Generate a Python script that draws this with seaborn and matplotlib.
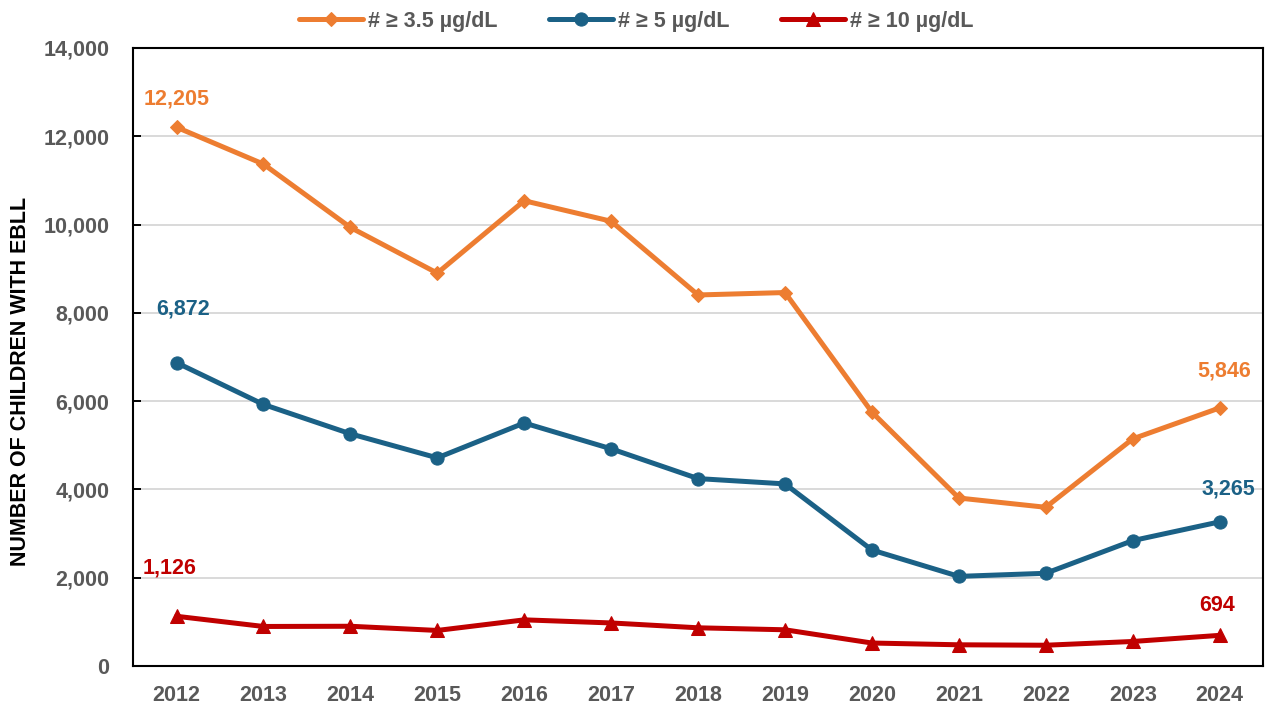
import numpy as np
import pandas as pd
import seaborn as sns
import matplotlib as mpl
from matplotlib import pyplot as plt
from matplotlib.ticker import FuncFormatter, MultipleLocator

years = [2012, 2013, 2014, 2015, 2016, 2017, 2018, 2019, 2020, 2021, 2022, 2023, 2024]
ge_35 = [12205, 11370, 9935, 8900, 10540, 10075, 8405, 8460, 5750, 3805, 3595, 5145, 5846]
ge_5 = [6872, 5925, 5260, 4715, 5505, 4920, 4245, 4125, 2627, 2030, 2100, 2840, 3265]
ge_10 = [1126, 895, 900, 805, 1045, 975, 865, 820, 520, 480, 470, 555, 694]
series_names = ['# \u2265 3.5 \u00b5g/dL', '# \u2265 5 \u00b5g/dL', '# \u2265 10 \u00b5g/dL']

colors = ['#ED7D31', '#1B6186', '#C00000']
markers = ['D', 'o', '^']
msizes = [7, 9.5, 9.5]

sns.set_style('white')
plt.rcParams['font.family'] = ['Liberation Sans', 'DejaVu Sans']
plt.rcParams['font.weight'] = 'bold'

df = pd.DataFrame({
    'year': years * 3,
    'count': ge_35 + ge_5 + ge_10,
    'series': [series_names[0]] * 13 + [series_names[1]] * 13 + [series_names[2]] * 13,
})

fig = plt.figure(figsize=(12.72, 7.10), dpi=100)
ax = fig.add_axes([0.1046, 0.062, 0.993 - 0.1046, 0.9324 - 0.062])

for name, col, mk, ms in zip(series_names, colors, markers, msizes):
    sns.lineplot(data=df[df['series'] == name], x='year', y='count', color=col,
                 marker=mk, markersize=ms, markeredgecolor=col, linewidth=3.6,
                 label=name, ax=ax)

ax.set_xlim(2011.5, 2024.5)
ax.set_ylim(0, 14000)
ax.set_xticks(years)
ax.set_xticklabels([str(y) for y in years])
ax.xaxis.set_minor_locator(MultipleLocator(1, offset=0.5))
ax.yaxis.set_major_locator(MultipleLocator(2000))
ax.yaxis.set_major_formatter(FuncFormatter(lambda v, p: f'{int(v):,}'))
ax.grid(axis='y', color='#D9D9D9', linewidth=1.4)
ax.set_axisbelow(True)

ax.tick_params(axis='x', which='major', length=0, pad=14, labelsize=15.5, labelcolor='#595959')
ax.tick_params(axis='x', which='minor', direction='in', length=6, width=1.4, color='black')
ax.tick_params(axis='y', direction='in', length=6, width=1.4, color='black', pad=17,
               labelsize=15.5, labelcolor='#595959', left=True)
for lab in ax.get_xticklabels() + ax.get_yticklabels():
    lab.set_fontweight('bold')

for s in ax.spines.values():
    s.set_visible(True)
    s.set_color('black')
    s.set_linewidth(1.5)

ax.set_xlabel('')
ax.set_ylabel('NUMBER OF CHILDREN WITH EBLL', fontsize=15.5, fontweight='bold', color='black')
ax.yaxis.set_label_coords(-0.090, 0.46)

# end-point labels
labels = [
    (years[0], ge_35[0], colors[0], (0, 13)),
    (years[0], ge_5[0], colors[1], (5, 31)),
    (years[0], ge_10[0], colors[2], (-5, 27)),
    (years[-1], ge_35[-1], colors[0], (3, 19)),
    (years[-1], ge_5[-1], colors[1], (6, 16)),
    (years[-1], ge_10[-1], colors[2], (-2, 14)),
]
for x, y, c, off in labels:
    ax.annotate(f'{y:,}', (x, y), xytext=off, textcoords='offset points',
                ha='center', va='bottom', color=c, fontsize=15.5, fontweight='bold')

ax.legend(loc='upper center', bbox_to_anchor=(0.5, 1.012), bbox_transform=fig.transFigure,
          ncol=3, frameon=False, fontsize=15.5, handlelength=3.0, columnspacing=2.4,
          handletextpad=0.2, labelcolor='#595959')
for t in ax.get_legend().get_texts():
    t.set_fontweight('bold')

fig.savefig('out.png', dpi=100)
